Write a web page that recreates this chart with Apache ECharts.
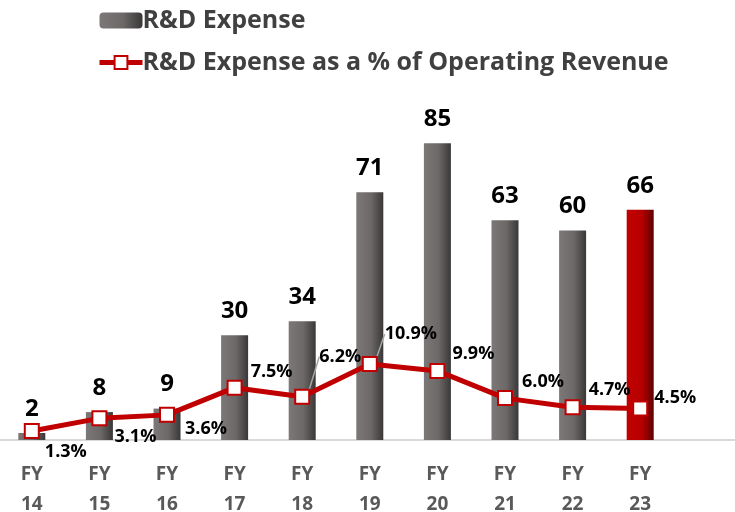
<!DOCTYPE html>
<html lang="en">
<head>
    <meta charset="UTF-8">
    <title>R&amp;D Expense</title>
    <style>
        html, body { margin: 0; padding: 0; background: #fff; }
    </style>
</head>
<body>
    <div id="main" style="height:512px; width: 735px;"></div>
    <script src="https://cdn.jsdelivr.net/npm/echarts@6/dist/echarts.min.js"></script>
    <script>
        var years = ['FY\n14', 'FY\n15', 'FY\n16', 'FY\n17', 'FY\n18', 'FY\n19', 'FY\n20', 'FY\n21', 'FY\n22', 'FY\n23'];
        var expense = [2, 8, 9, 30, 34, 71, 85, 63, 60, 66];
        var ratio = [1.3, 3.1, 3.6, 7.5, 6.2, 10.9, 9.9, 6.0, 4.7, 4.5];

        // label offsets for the % labels (dx, dy from the point)
        var pctOffset = [[34, 21], [36, 19], [39, 14], [37, -16], [38, -40], [41, -30], [36, -17], [38, -16], [37, -17], [35, -11]];

        var FONT = '"Open Sans", "Noto Sans", sans-serif';

        var grayBar = new echarts.graphic.LinearGradient(0, 0, 1, 0, [
            { offset: 0, color: '#7c7877' },
            { offset: 0.55, color: '#6c6868' },
            { offset: 1, color: '#393737' }
        ]);
        var redBar = new echarts.graphic.LinearGradient(0, 0, 1, 0, [
            { offset: 0, color: '#c00000' },
            { offset: 0.55, color: '#b80000' },
            { offset: 1, color: '#600000' }
        ]);

        var myChart = echarts.init(document.getElementById('main'));
        var option = {
            animation: false,
            legend: {
                orient: 'vertical',
                left: 92,
                top: 3,
                itemGap: 17,
                itemWidth: 43,
                itemHeight: 16,
                textStyle: {
                    fontFamily: FONT,
                    fontWeight: 'bold',
                    fontSize: 25,
                    color: '#404040',
                    padding: [0, 0, 0, -5]
                },
                data: [
                    { name: 'R&D Expense', itemStyle: { color: grayBar } },
                    { name: 'R&D Expense as a % of Operating Revenue', lineStyle: { width: 5 } }
                ]
            },
            grid: {
                left: -2,
                right: 61,
                top: 91,
                bottom: 72,
                outerBoundsMode: 'none'
            },
            graphic: [{
                type: 'line',
                shape: { x1: 0, y1: 440, x2: 735, y2: 440 },
                style: { stroke: '#d9d9d9', lineWidth: 2 },
                z: 0
            }],
            xAxis: {
                type: 'category',
                data: years,
                axisLine: { show: false },
                axisTick: { show: false },
                axisLabel: {
                    margin: 20,
                    fontFamily: FONT,
                    fontWeight: 'bold',
                    fontSize: 19,
                    lineHeight: 30,
                    color: '#595959'
                }
            },
            yAxis: [
                { type: 'value', min: 0, max: 100, show: false },
                { type: 'value', min: 0, max: 50, show: false }
            ],
            series: [
                {
                    name: 'R&D Expense',
                    type: 'bar',
                    barWidth: 27,
                    data: expense.map(function (v, i) {
                        return {
                            value: v,
                            itemStyle: { color: i === expense.length - 1 ? redBar : grayBar }
                        };
                    }),
                    label: {
                        show: true,
                        position: 'top',
                        distance: 12,
                        fontFamily: FONT,
                        fontWeight: 'bold',
                        fontSize: 24,
                        color: '#000'
                    }
                },
                {
                    name: 'R&D Expense as a % of Operating Revenue',
                    type: 'line',
                    yAxisIndex: 1,
                    z: 5,
                    symbol: 'rect',
                    symbolSize: 14,
                    lineStyle: { color: '#c00000', width: 5 },
                    itemStyle: { color: '#fff', borderColor: '#c00000', borderWidth: 2 },
                    data: ratio.map(function (v, i) {
                        return {
                            value: v,
                            labelLine: { show: i === 4 || i === 5 }
                        };
                    }),
                    label: {
                        show: true,
                        position: 'inside',
                        formatter: function (p) { return p.value.toFixed(1) + '%'; },
                        fontFamily: FONT,
                        fontWeight: 'bold',
                        fontSize: 18,
                        color: '#000'
                    },
                    labelLine: {
                        lineStyle: { color: '#a6a6a6', width: 1.5 }
                    },
                    labelLayout: function (p) {
                        var o = pctOffset[p.dataIndex];
                        return { dx: o[0], dy: o[1] };
                    }
                }
            ]
        };
        myChart.setOption(option);
    </script>
</body>
</html>
